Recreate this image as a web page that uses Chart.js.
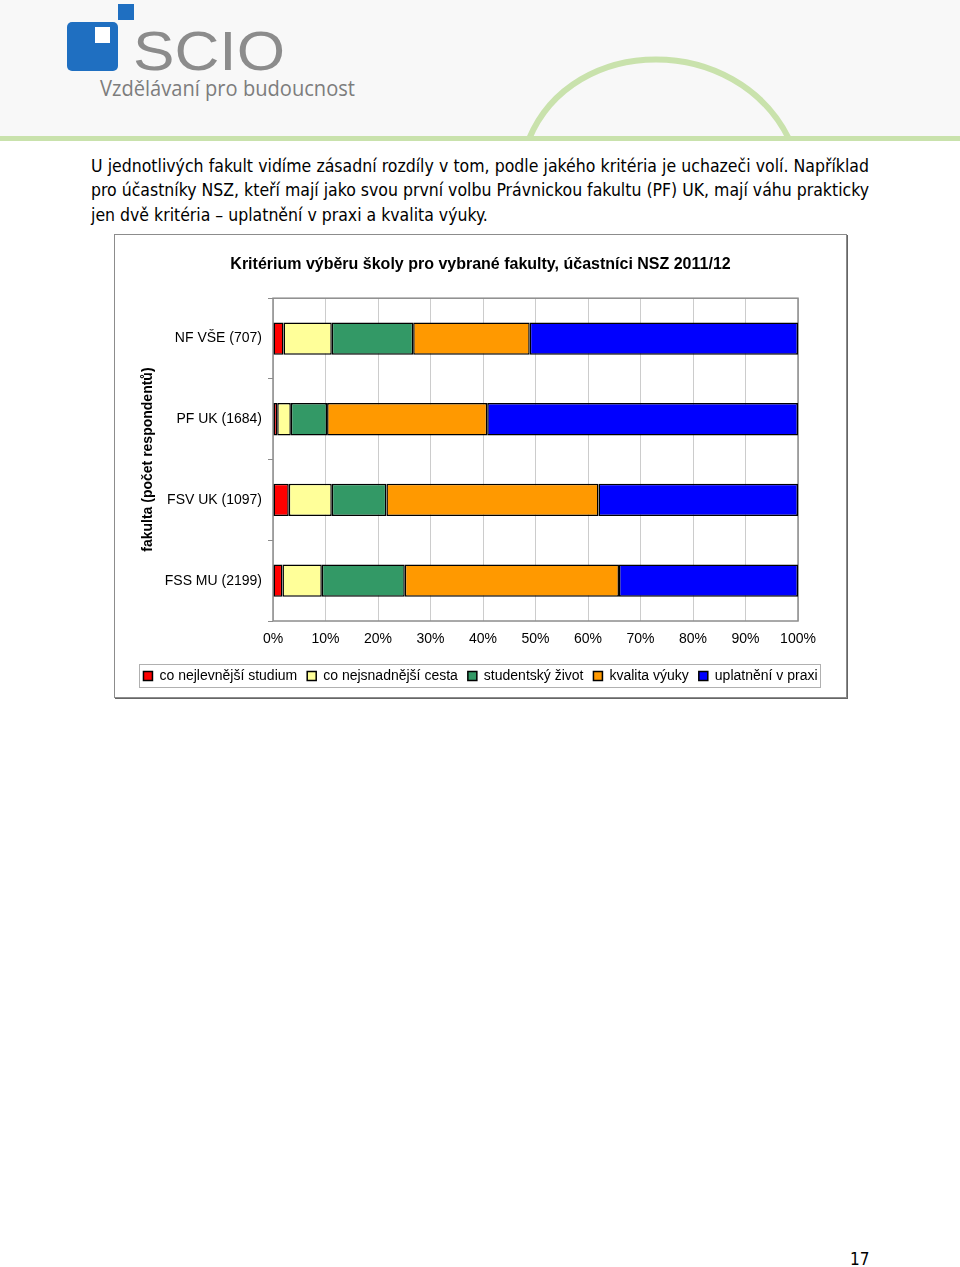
<!DOCTYPE html>
<html lang="cs">
<head>
<meta charset="utf-8">
<title>Kritérium výběru školy</title>
<script src="https://cdn.jsdelivr.net/npm/chart.js@4.4.1/dist/chart.umd.min.js"></script>
<style>
  body { margin: 0; width: 960px; height: 1267px; position: relative; background: #fff;
         font-family: "DejaVu Sans Condensed", "DejaVu Sans", sans-serif; color: #000; }
  #header { position: absolute; left: 0; top: 0; }
  .line { position: absolute; left: 91px; width: 778px; font-size: 17.5px; line-height: 20px; white-space: nowrap; }
  .just { text-align: justify; text-align-last: justify; }
  #box { position: absolute; left: 114px; top: 234px; width: 733px; height: 464px; box-sizing: border-box;
         border: 1px solid #8c8c8c; box-shadow: 1px 1px 0 #666; background: #fff; }
  #box canvas { display: block; }
  #page { position: absolute; left: 850px; top: 1249px; font-size: 17px; }
</style>
</head>
<body>
<svg id="header" width="960" height="145">
  <rect x="0" y="0" width="960" height="138" fill="#f8f8f8"/>
  <path d="M 529 139 C 573 33, 737 33, 789 139" fill="none" stroke="#c9e2ac" stroke-width="6"/>
  <rect x="0" y="136" width="960" height="5" fill="#c9e2ac"/>
  <rect x="67" y="22" width="51" height="49" rx="5" fill="#1f6fc1"/>
  <rect x="95" y="27" width="15" height="16" fill="#ffffff"/>
  <rect x="118" y="4" width="16" height="16" fill="#1f6fc1"/>
  <text x="133" y="70" font-family="Liberation Sans" font-size="56" fill="#8c8c8c" textLength="152" lengthAdjust="spacingAndGlyphs">SCIO</text>
  <text x="100" y="96" font-family="Open Sans" font-size="21" fill="#7d7d7d" textLength="255" lengthAdjust="spacingAndGlyphs">Vzdělávaní pro budoucnost</text>
</svg>

<div class="line just" style="top:156px">U jednotlivých fakult vidíme zásadní rozdíly v tom, podle jakého kritéria je uchazeči volí. Například</div>
<div class="line just" style="top:180px">pro účastníky NSZ, kteří mají jako svou první volbu Právnickou fakultu (PF) UK, mají váhu prakticky</div>
<div class="line" style="top:205px">jen dvě kritéria – uplatnění v praxi a kvalita výuky.</div>

<div id="box"><canvas id="chart" width="731" height="462"></canvas></div>

<div id="page">17</div>

<script>
// faculties (top to bottom) and criteria shares in %
const faculties = ['NF VŠE (707)', 'PF UK (1684)', 'FSV UK (1097)', 'FSS MU (2199)'];
const criteria = ['co nejlevnější studium', 'co nejsnadnější cesta', 'studentský život', 'kvalita výuky', 'uplatnění v praxi'];
const cheapest = [2.0, 0.8, 3.0, 1.8];
const easiest = [9.2, 2.6, 8.2, 7.5];
const studentLife = [15.5, 6.9, 10.4, 15.8];
const teaching = [22.2, 30.5, 40.4, 40.8];
const employment = [51.1, 59.2, 38.0, 34.1];
const colors = ['#ff0000', '#ffff99', '#339966', '#ff9900', '#0000ff'];

const FONT = 'Liberation Sans, Arial, sans-serif';

// frame around the plot area
const plotFrame = {
    id: 'plotFrame',
    beforeDatasetsDraw(chart) {
        const { ctx, chartArea: a } = chart;
        ctx.save();
        ctx.strokeStyle = '#8c8c8c';
        ctx.lineWidth = 1.5;
        ctx.strokeRect(a.left, a.top, a.right - a.left, a.bottom - a.top);
        ctx.restore();
    }
};

// thin border round the legend
const legendFrame = {
    id: 'legendFrame',
    afterDraw(chart) {
        const boxes = chart.legend.legendHitBoxes;
        if (!boxes || !boxes.length) return;
        let l = Infinity, r = -Infinity, t = Infinity, b = -Infinity;
        boxes.forEach(h => {
            l = Math.min(l, h.left); r = Math.max(r, h.left + h.width);
            t = Math.min(t, h.top); b = Math.max(b, h.top + h.height);
        });
        const ctx = chart.ctx;
        ctx.save();
        ctx.strokeStyle = '#b0b0b0';
        ctx.lineWidth = 1;
        ctx.strokeRect(Math.round(l) - 3.5, Math.round(t) - 4.5, Math.round(r - l) + 7, Math.round(b - t) + 9);
        ctx.restore();
    }
};

const series = [cheapest, easiest, studentLife, teaching, employment];

new Chart(document.getElementById('chart').getContext('2d'), {
    type: 'bar',
    data: {
        labels: faculties,
        datasets: criteria.map((name, i) => ({
            label: name,
            data: series[i],
            backgroundColor: colors[i],
            borderColor: '#000',
            borderWidth: 1.5,
            borderSkipped: false,
            barPercentage: 0.4,
            categoryPercentage: 1
        }))
    },
    options: {
        indexAxis: 'y',
        responsive: false,
        animation: false,
        layout: { padding: { top: 0, right: 0, bottom: 4, left: 0 } },
        plugins: {
            title: {
                display: true,
                text: 'Kritérium výběru školy pro vybrané fakulty, účastníci NSZ 2011/12',
                color: '#000',
                font: { family: FONT, size: 16, weight: 'bold' },
                padding: { top: 20, bottom: 24 }
            },
            legend: {
                position: 'bottom',
                labels: {
                    color: '#000',
                    font: { family: FONT, size: 14 },
                    boxWidth: 9,
                    boxHeight: 9,
                    padding: 10
                }
            },
            tooltip: { enabled: false }
        },
        scales: {
            x: {
                stacked: true,
                min: 0,
                max: 100,
                ticks: {
                    stepSize: 10,
                    color: '#000',
                    font: { family: FONT, size: 14 },
                    padding: 10,
                    maxRotation: 0,
                    callback: v => v + '%'
                },
                grid: { color: '#cccccc', drawTicks: false },
                border: { display: false },
                afterFit(scale) { scale.height = 38; }
            },
            y: {
                stacked: true,
                ticks: {
                    color: '#000',
                    font: { family: FONT, size: 14 },
                    padding: 6
                },
                grid: { drawOnChartArea: false, drawTicks: true, tickLength: 5, offset: true, color: '#8c8c8c' },
                border: { display: false },
                title: {
                    display: true,
                    text: 'fakulta (počet respondentů)',
                    color: '#000',
                    font: { family: FONT, size: 14, weight: 'bold' },
                    padding: { top: 25, bottom: 0 }
                },
                afterFit(scale) { scale.width = 158; }
            },
            // empty axis that only keeps space on the right of the plot
            yRight: {
                type: 'category',
                position: 'right',
                ticks: { display: false },
                grid: { display: false },
                border: { display: false },
                afterFit(scale) { scale.width = 48; }
            }
        }
    },
    plugins: [plotFrame, legendFrame]
});
</script>
</body>
</html>
